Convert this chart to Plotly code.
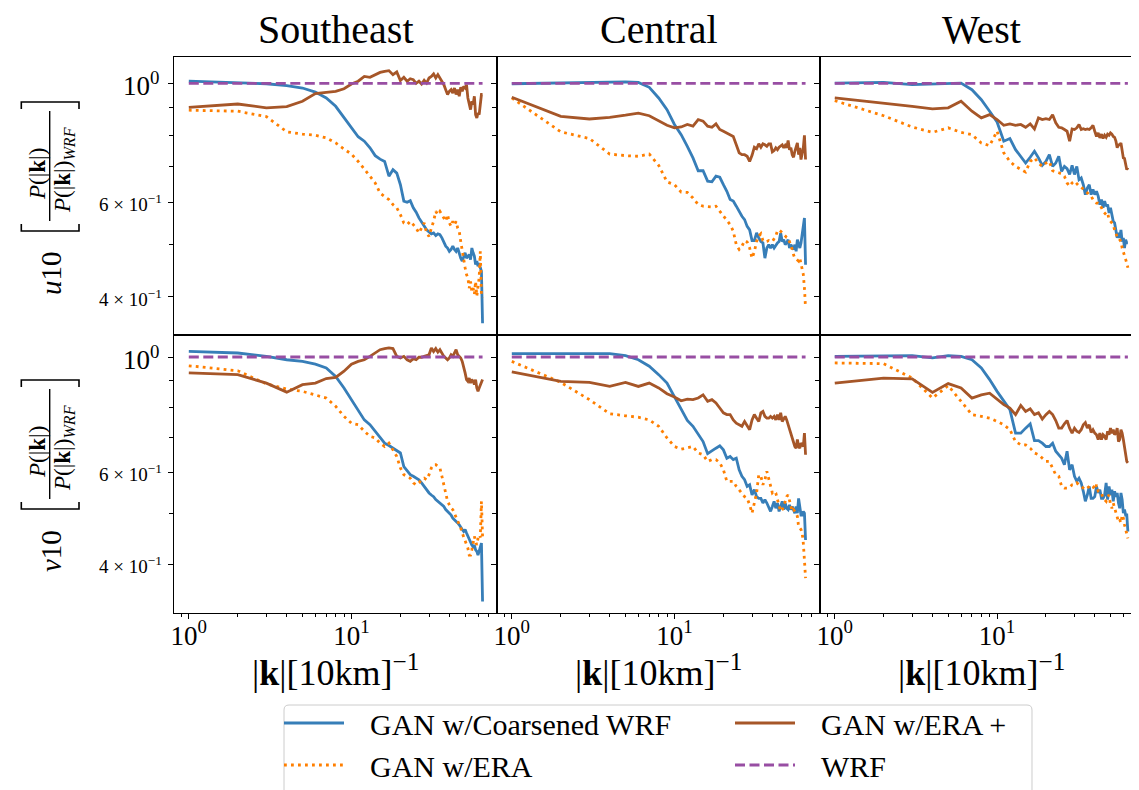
import math
import plotly.graph_objects as go

# ---------------- data ----------------
k_values = list(range(1, 65))
regions = ["Southeast", "Central", "West"]
variables = ["u10", "v10"]
series_names = ["GAN w/Coarsened WRF", "GAN w/ERA", "GAN w/ERA +", "WRF"]
x_tick_vals = [1, 10]
x_tick_text = ["10<sup>0</sup>", "10<sup>1</sup>"]
y_tick_vals = [0.4, 0.6, 1.0]
y_tick_text = ["4 × 10<sup>−1</sup>", "6 × 10<sup>−1</sup>", "10<sup>0</sup>"]
x_minor_vals = [0.9, 2, 3, 4, 5, 6, 7, 8, 9, 20, 30, 40, 50, 60, 70]
y_minor_vals = [0.5, 0.7, 0.8, 0.9]

# u10 -------------------------------------------------------------
u10_southeast_coarsened = [
    1.009, 1.004, 0.998, 0.990, 0.980, 0.963, 0.939, 0.906, 0.862, 0.826,
    0.795, 0.780, 0.758, 0.733, 0.722, 0.715, 0.671, 0.690, 0.680, 0.647,
    0.603, 0.600, 0.604, 0.586, 0.575, 0.561, 0.550, 0.540, 0.533, 0.528,
    0.524, 0.526, 0.520, 0.524, 0.522, 0.515, 0.506, 0.497, 0.493, 0.486,
    0.490, 0.497, 0.490, 0.486, 0.493, 0.479, 0.472, 0.466, 0.476, 0.483,
    0.472, 0.476, 0.479, 0.469, 0.493, 0.483, 0.476, 0.459, 0.466, 0.456,
    0.462, 0.453, 0.446, 0.357]
u10_southeast_era = [
    0.891, 0.887, 0.867, 0.812, 0.804, 0.800, 0.791, 0.774, 0.754, 0.738,
    0.715, 0.690, 0.671, 0.652, 0.624, 0.615, 0.607, 0.594, 0.586, 0.569,
    0.549, 0.545, 0.553, 0.545, 0.537, 0.526, 0.537, 0.549, 0.526, 0.518,
    0.537, 0.553, 0.577, 0.569, 0.577, 0.569, 0.561, 0.553, 0.569, 0.549,
    0.541, 0.553, 0.545, 0.553, 0.537, 0.530, 0.507, 0.486, 0.466, 0.453,
    0.440, 0.434, 0.415, 0.427, 0.409, 0.415, 0.404, 0.427, 0.401, 0.415,
    0.434, 0.486, 0.404, 0.398]
u10_southeast_eraplus = [
    0.902, 0.915, 0.900, 0.905, 0.926, 0.957, 0.962, 0.966, 0.977, 0.997,
    1.009, 1.030, 1.026, 1.038, 1.048, 1.053, 1.056, 1.038, 1.050, 1.012,
    1.026, 1.009, 1.020, 1.016, 1.000, 1.009, 0.997, 1.013, 1.001, 1.023,
    1.030, 1.041, 1.023, 1.038, 1.023, 1.009, 0.994, 0.973, 0.953, 0.966,
    0.973, 0.959, 0.980, 0.953, 0.973, 0.946, 0.983, 0.966, 0.987, 0.980,
    0.994, 0.939, 0.919, 0.893, 0.926, 0.913, 0.946, 0.874, 0.862, 0.880,
    0.874, 0.913, 0.953, 0.953]

u10_central_coarsened = [
    0.998, 1.002, 1.005, 1.006, 1.006, 1.004, 0.983, 0.939, 0.893, 0.838,
    0.802, 0.763, 0.726, 0.687, 0.687, 0.657, 0.655, 0.671, 0.668, 0.647,
    0.629, 0.607, 0.603, 0.590, 0.577, 0.565, 0.557, 0.541, 0.533, 0.509,
    0.509, 0.526, 0.515, 0.507, 0.504, 0.472, 0.493, 0.500, 0.493, 0.500,
    0.493, 0.500, 0.504, 0.507, 0.526, 0.507, 0.511, 0.500, 0.504, 0.511,
    0.493, 0.500, 0.493, 0.490, 0.500, 0.486, 0.511, 0.500, 0.493, 0.504,
    0.522, 0.537, 0.561, 0.459]
u10_central_era = [
    0.939, 0.812, 0.789, 0.738, 0.733, 0.731, 0.738, 0.703, 0.655, 0.647,
    0.627, 0.626, 0.611, 0.594, 0.590, 0.588, 0.588, 0.590, 0.577, 0.565,
    0.555, 0.545, 0.530, 0.500, 0.490, 0.497, 0.509, 0.506, 0.493, 0.472,
    0.485, 0.507, 0.519, 0.524, 0.509, 0.506, 0.507, 0.509, 0.507, 0.507,
    0.513, 0.519, 0.531, 0.533, 0.530, 0.526, 0.522, 0.520, 0.516, 0.515,
    0.507, 0.500, 0.490, 0.479, 0.472, 0.471, 0.469, 0.466, 0.472, 0.462,
    0.453, 0.440, 0.415, 0.381]
u10_central_eraplus = [
    0.942, 0.868, 0.858, 0.864, 0.872, 0.880, 0.870, 0.852, 0.835, 0.826,
    0.829, 0.838, 0.832, 0.856, 0.850, 0.832, 0.828, 0.840, 0.820, 0.814,
    0.808, 0.800, 0.796, 0.768, 0.742, 0.736, 0.736, 0.731, 0.715, 0.734,
    0.760, 0.755, 0.771, 0.760, 0.771, 0.768, 0.763, 0.771, 0.771, 0.745,
    0.749, 0.758, 0.752, 0.760, 0.763, 0.768, 0.758, 0.766, 0.758, 0.782,
    0.752, 0.758, 0.736, 0.728, 0.747, 0.758, 0.774, 0.736, 0.758, 0.721,
    0.736, 0.758, 0.800, 0.721]

u10_west_coarsened = [
    1.001, 1.004, 0.994, 0.997, 1.000, 1.001, 0.973, 0.932, 0.887, 0.847,
    0.780, 0.789, 0.752, 0.731, 0.710, 0.728, 0.747, 0.726, 0.703, 0.715,
    0.736, 0.700, 0.710, 0.731, 0.685, 0.700, 0.693, 0.676, 0.703, 0.676,
    0.700, 0.661, 0.666, 0.647, 0.620, 0.638, 0.647, 0.620, 0.634, 0.620,
    0.629, 0.616, 0.594, 0.607, 0.586, 0.603, 0.590, 0.594, 0.573, 0.586,
    0.565, 0.553, 0.549, 0.533, 0.515, 0.526, 0.515, 0.533, 0.507, 0.515,
    0.493, 0.511, 0.504, 0.504]
u10_west_era = [
    0.928, 0.870, 0.829, 0.810, 0.826, 0.810, 0.802, 0.774, 0.765, 0.814,
    0.742, 0.715, 0.700, 0.690, 0.683, 0.715, 0.726, 0.710, 0.700, 0.710,
    0.715, 0.687, 0.685, 0.681, 0.678, 0.671, 0.652, 0.643, 0.652, 0.657,
    0.650, 0.643, 0.640, 0.634, 0.629, 0.625, 0.620, 0.616, 0.607, 0.603,
    0.598, 0.598, 0.594, 0.586, 0.577, 0.573, 0.569, 0.573, 0.557, 0.553,
    0.549, 0.545, 0.533, 0.526, 0.515, 0.515, 0.511, 0.507, 0.493, 0.486,
    0.476, 0.469, 0.462, 0.453]
u10_west_eraplus = [
    0.939, 0.919, 0.906, 0.896, 0.900, 0.926, 0.887, 0.862, 0.874, 0.856,
    0.835, 0.840, 0.835, 0.838, 0.828, 0.840, 0.822, 0.862, 0.856, 0.859,
    0.856, 0.874, 0.844, 0.828, 0.826, 0.820, 0.814, 0.780, 0.822, 0.820,
    0.826, 0.838, 0.820, 0.823, 0.820, 0.822, 0.820, 0.826, 0.835, 0.814,
    0.796, 0.808, 0.791, 0.804, 0.789, 0.800, 0.793, 0.804, 0.800, 0.808,
    0.804, 0.796, 0.793, 0.780, 0.758, 0.768, 0.768, 0.774, 0.747, 0.726,
    0.724, 0.710, 0.690, 0.697]

# v10 -------------------------------------------------------------
v10_southeast_coarsened = [
    1.025, 1.018, 1.003, 0.988, 0.981, 0.969, 0.953, 0.918, 0.872, 0.828,
    0.792, 0.757, 0.741, 0.720, 0.699, 0.683, 0.676, 0.668, 0.663, 0.654,
    0.616, 0.603, 0.594, 0.590, 0.585, 0.581, 0.573, 0.564, 0.556, 0.548,
    0.543, 0.539, 0.532, 0.528, 0.524, 0.520, 0.516, 0.509, 0.505, 0.501,
    0.497, 0.490, 0.487, 0.483, 0.480, 0.476, 0.469, 0.466, 0.462, 0.466,
    0.459, 0.452, 0.448, 0.442, 0.435, 0.432, 0.435, 0.426, 0.423, 0.416,
    0.423, 0.429, 0.439, 0.339]
v10_southeast_era = [
    0.962, 0.941, 0.888, 0.868, 0.859, 0.846, 0.834, 0.804, 0.769, 0.746,
    0.741, 0.720, 0.704, 0.699, 0.683, 0.673, 0.683, 0.663, 0.644, 0.612,
    0.594, 0.590, 0.585, 0.573, 0.568, 0.573, 0.581, 0.585, 0.581, 0.594,
    0.612, 0.621, 0.621, 0.616, 0.612, 0.590, 0.568, 0.543, 0.528, 0.520,
    0.512, 0.509, 0.501, 0.494, 0.483, 0.476, 0.469, 0.459, 0.452, 0.442,
    0.435, 0.429, 0.416, 0.416, 0.426, 0.442, 0.452, 0.442, 0.435, 0.448,
    0.455, 0.450, 0.528, 0.452]
v10_southeast_eraplus = [
    0.932, 0.925, 0.891, 0.856, 0.885, 0.891, 0.909, 0.914, 0.939, 0.969,
    0.981, 0.988, 1.003, 1.018, 1.033, 1.038, 1.041, 1.038, 1.003, 0.996,
    1.003, 0.988, 0.981, 0.993, 0.988, 0.999, 0.999, 1.003, 1.007, 1.010,
    1.041, 1.025, 1.038, 1.022, 1.033, 1.018, 1.003, 0.996, 0.988, 0.996,
    1.010, 1.003, 1.018, 1.033, 1.010, 1.003, 0.996, 0.981, 0.960, 0.932,
    0.905, 0.898, 0.911, 0.891, 0.905, 0.898, 0.885, 0.905, 0.872, 0.859,
    0.872, 0.885, 0.898, 0.905]

v10_central_coarsened = [
    1.015, 1.015, 1.015, 1.015, 1.006, 0.988, 0.960, 0.925, 0.891, 0.840,
    0.798, 0.755, 0.736, 0.709, 0.688, 0.652, 0.661, 0.668, 0.675, 0.663,
    0.639, 0.644, 0.635, 0.639, 0.607, 0.590, 0.581, 0.564, 0.568, 0.543,
    0.556, 0.539, 0.535, 0.535, 0.524, 0.532, 0.524, 0.512, 0.505, 0.516,
    0.528, 0.512, 0.524, 0.505, 0.520, 0.528, 0.509, 0.524, 0.512, 0.509,
    0.520, 0.509, 0.516, 0.509, 0.501, 0.516, 0.501, 0.535, 0.509, 0.497,
    0.497, 0.505, 0.501, 0.445]
v10_central_era = [
    0.981, 0.894, 0.828, 0.778, 0.771, 0.766, 0.757, 0.736, 0.699, 0.673,
    0.665, 0.670, 0.673, 0.654, 0.649, 0.630, 0.635, 0.635, 0.626, 0.607,
    0.577, 0.577, 0.577, 0.564, 0.556, 0.548, 0.539, 0.535, 0.520, 0.501,
    0.524, 0.548, 0.594, 0.590, 0.568, 0.581, 0.603, 0.581, 0.560, 0.548,
    0.552, 0.548, 0.532, 0.516, 0.505, 0.509, 0.516, 0.528, 0.539, 0.543,
    0.528, 0.516, 0.505, 0.509, 0.505, 0.501, 0.494, 0.472, 0.469, 0.466,
    0.459, 0.439, 0.407, 0.376]
v10_central_eraplus = [
    0.936, 0.898, 0.894, 0.878, 0.894, 0.878, 0.891, 0.872, 0.850, 0.838,
    0.824, 0.830, 0.828, 0.834, 0.846, 0.822, 0.828, 0.816, 0.798, 0.781,
    0.775, 0.775, 0.757, 0.746, 0.741, 0.736, 0.752, 0.736, 0.725, 0.757,
    0.775, 0.763, 0.752, 0.781, 0.786, 0.769, 0.763, 0.763, 0.769, 0.763,
    0.769, 0.757, 0.775, 0.757, 0.781, 0.752, 0.763, 0.769, 0.757, 0.741,
    0.725, 0.714, 0.694, 0.683, 0.673, 0.668, 0.694, 0.673, 0.668, 0.683,
    0.678, 0.673, 0.714, 0.649]

v10_west_coarsened = [
    1.003, 1.003, 1.006, 0.996, 1.006, 1.003, 0.988, 0.953, 0.905, 0.859,
    0.822, 0.792, 0.714, 0.714, 0.730, 0.744, 0.691, 0.691, 0.683, 0.673,
    0.673, 0.683, 0.659, 0.649, 0.639, 0.621, 0.659, 0.607, 0.621, 0.590,
    0.577, 0.585, 0.573, 0.552, 0.528, 0.543, 0.564, 0.535, 0.535, 0.539,
    0.564, 0.548, 0.556, 0.535, 0.535, 0.543, 0.573, 0.532, 0.564, 0.543,
    0.556, 0.528, 0.552, 0.539, 0.548, 0.524, 0.512, 0.548, 0.532, 0.501,
    0.509, 0.497, 0.497, 0.462]
v10_west_era = [
    0.974, 0.971, 0.911, 0.834, 0.881, 0.822, 0.775, 0.769, 0.763, 0.752,
    0.741, 0.725, 0.688, 0.678, 0.678, 0.668, 0.654, 0.649, 0.639, 0.630,
    0.630, 0.612, 0.594, 0.590, 0.564, 0.560, 0.560, 0.562, 0.568, 0.568,
    0.573, 0.568, 0.564, 0.560, 0.556, 0.560, 0.564, 0.568, 0.564, 0.556,
    0.568, 0.552, 0.548, 0.548, 0.535, 0.532, 0.528, 0.539, 0.543, 0.520,
    0.512, 0.524, 0.512, 0.501, 0.490, 0.483, 0.487, 0.480, 0.497, 0.490,
    0.476, 0.466, 0.462, 0.448]
v10_west_eraplus = [
    0.891, 0.911, 0.908, 0.855, 0.889, 0.872, 0.834, 0.846, 0.852, 0.828,
    0.810, 0.798, 0.775, 0.807, 0.786, 0.795, 0.775, 0.781, 0.760, 0.775,
    0.786, 0.775, 0.755, 0.730, 0.730, 0.744, 0.755, 0.730, 0.714, 0.730,
    0.720, 0.716, 0.725, 0.741, 0.748, 0.730, 0.741, 0.716, 0.725, 0.714,
    0.709, 0.694, 0.714, 0.694, 0.709, 0.704, 0.694, 0.720, 0.709, 0.730,
    0.714, 0.725, 0.709, 0.714, 0.730, 0.688, 0.694, 0.725, 0.714, 0.694,
    0.673, 0.659, 0.630, 0.626]

# WRF reference (ratio of WRF to itself)
wrf_ratio = [
    1.0, 1.0, 1.0, 1.0, 1.0, 1.0, 1.0, 1.0, 1.0, 1.0, 1.0, 1.0, 1.0, 1.0, 1.0, 1.0,
    1.0, 1.0, 1.0, 1.0, 1.0, 1.0, 1.0, 1.0, 1.0, 1.0, 1.0, 1.0, 1.0, 1.0, 1.0, 1.0,
    1.0, 1.0, 1.0, 1.0, 1.0, 1.0, 1.0, 1.0, 1.0, 1.0, 1.0, 1.0, 1.0, 1.0, 1.0, 1.0,
    1.0, 1.0, 1.0, 1.0, 1.0, 1.0, 1.0, 1.0, 1.0, 1.0, 1.0, 1.0, 1.0, 1.0, 1.0, 1.0]

panels = [
    [(u10_southeast_coarsened, u10_southeast_era, u10_southeast_eraplus, wrf_ratio),
     (u10_central_coarsened, u10_central_era, u10_central_eraplus, wrf_ratio),
     (u10_west_coarsened, u10_west_era, u10_west_eraplus, wrf_ratio)],
    [(v10_southeast_coarsened, v10_southeast_era, v10_southeast_eraplus, wrf_ratio),
     (v10_central_coarsened, v10_central_era, v10_central_eraplus, wrf_ratio),
     (v10_west_coarsened, v10_west_era, v10_west_eraplus, wrf_ratio)],
]

# ---------------- style ----------------
W, H = 1139, 790
FONT = "Liberation Serif"
colors = ["#377eb8", "#ff7f00", "#a65628", "#984ea3"]
dashes = ["solid", "2.8px,4.2px", "solid", "10px,4.5px"]
legend_of_series = ["legend", "legend", "legend2", "legend2"]

col_px = [(166, 489), (489, 812), (812, 1134.3)]
row_px = [(49.3, 326.7), (326.7, 605)]
y_ranges = [[-0.4688, 0.0485], [-0.492, 0.0429]]
x_range = [-0.091, 1.895]


def px_x(x):
    return x / W


def px_y(y):
    return 1 - y / H


fig = go.Figure()
layout = dict(
    width=W, height=H,
    margin=dict(l=0, r=0, t=0, b=0, autoexpand=False),
    paper_bgcolor="white", plot_bgcolor="white",
    font=dict(family=FONT, color="black"),
    showlegend=True,
)
annotations = []
shapes = []

for r in range(2):
    for c in range(3):
        n = r * 3 + c + 1
        xa = "x" if n == 1 else f"x{n}"
        ya = "y" if n == 1 else f"y{n}"
        for s in range(4):
            fig.add_trace(go.Scatter(
                x=k_values, y=panels[r][c][s], mode="lines",
                name="\u2002\u2009" + series_names[s],
                legendgroup=series_names[s],
                legend=legend_of_series[s],
                showlegend=(n == 1),
                line=dict(color=colors[s], width=2.8, dash=dashes[s]),
                xaxis=xa, yaxis=ya,
            ))
        bottom = (r == 1)
        layout["xaxis" if n == 1 else f"xaxis{n}"] = dict(
            type="log", range=x_range,
            domain=[px_x(col_px[c][0]), px_x(col_px[c][1])],
            anchor=ya, automargin=False,
            showline=True, mirror=True, linecolor="black", linewidth=1.3,
            showgrid=False, zeroline=False,
            ticks="outside" if bottom else "", ticklen=5, tickwidth=1.1,
            tickcolor="black",
            tickvals=x_tick_vals, ticktext=x_tick_text,
            showticklabels=bottom,
            tickfont=dict(family=FONT, size=27, color="black"),
            ticklabelstandoff=-7,
            minor=dict(tickvals=x_minor_vals,
                       ticks="outside" if bottom else "", ticklen=3,
                       tickwidth=0.9, tickcolor="black"),
        )
        layout["yaxis" if n == 1 else f"yaxis{n}"] = dict(
            type="log", range=y_ranges[r],
            domain=[px_y(row_px[r][1]), px_y(row_px[r][0])],
            anchor=xa, automargin=False,
            showline=True, mirror=True, linecolor="black", linewidth=1.3,
            showgrid=False, zeroline=False,
            ticks="outside", ticklen=4.5, tickwidth=1.1, tickcolor="black",
            tickvals=y_tick_vals, showticklabels=False,
            minor=dict(tickvals=y_minor_vals, ticks="outside",
                       ticklen=3.5, tickwidth=0.9, tickcolor="black"),
        )
        # y tick labels (left column only), placed on the axis scale
        if c == 0:
            for v, t in zip(y_tick_vals, y_tick_text):
                big = (v == 1.0)
                annotations.append(dict(
                    x=px_x(153 if big else 155.5), y=math.log10(v),
                    xref="paper", yref=ya, text=t, showarrow=False,
                    xanchor="right", yanchor="middle", yshift=-1,
                    font=dict(family=FONT, size=27 if big else 19,
                              color="black")))

# column titles and x labels
for c, name in enumerate(regions):
    cx = (col_px[c][0] + col_px[c][1]) / 2
    annotations.append(dict(
        x=px_x(cx), y=px_y(21), xref="paper", yref="paper",
        text=name, showarrow=False, xanchor="center", yanchor="middle",
        font=dict(family=FONT, size=40, color="black")))
    annotations.append(dict(
        x=px_x(cx), y=px_y(662), xref="paper", yref="paper",
        text="|<b>k</b>|[10km]<sup>−1</sup>", showarrow=False,
        xanchor="center", yanchor="middle",
        font=dict(family=FONT, size=36, color="black")))

# y labels
for r, var in enumerate(variables):
    dy = 278 * r
    annotations.append(dict(
        x=px_x(43), y=px_y(265 + dy), xref="paper", yref="paper",
        text=f"<i>{var[0]}</i>{var[1:]}", showarrow=False, textangle=-90,
        xanchor="center", yanchor="middle",
        font=dict(family=FONT, size=29, color="black")))
    annotations.append(dict(
        x=px_x(29), y=px_y(166 + dy), xref="paper", yref="paper",
        text="<i>P</i>(|<b>k</b>|)", showarrow=False, textangle=-90,
        xanchor="center", yanchor="middle",
        font=dict(family=FONT, size=23, color="black")))
    annotations.append(dict(
        x=px_x(56), y=px_y(162 + dy), xref="paper", yref="paper",
        text="<i>P</i>(|<b>k</b>|)<sub><i>WRF</i></sub>", showarrow=False,
        textangle=-90, xanchor="center", yanchor="middle",
        font=dict(family=FONT, size=23, color="black")))
    shapes.append(dict(type="line", xref="paper", yref="paper",
                       x0=px_x(41.7), x1=px_x(41.7),
                       y0=px_y(103 + dy), y1=px_y(213 + dy),
                       line=dict(color="black", width=1.4)))
    for (yb, yt) in [(223, 216), (94, 101)]:
        path = "M {:.5f},{:.5f} L {:.5f},{:.5f} L {:.5f},{:.5f} L {:.5f},{:.5f}".format(
            px_x(13.3), px_y(yt + dy), px_x(13.3), px_y(yb + dy),
            px_x(71), px_y(yb + dy), px_x(71), px_y(yt + dy))
        shapes.append(dict(type="path", xref="paper", yref="paper", path=path,
                           line=dict(color="black", width=1.6)))

# legend frame with rounded corners
L, R, T, B, rad = 276, 1024, 697, 789, 5
pts = [
    ("M", L + rad, T), ("L", R - rad, T), ("Q", R, T, R, T + rad),
    ("L", R, B - rad), ("Q", R, B, R - rad, B), ("L", L + rad, B),
    ("Q", L, B, L, B - rad), ("L", L, T + rad), ("Q", L, T, L + rad, T),
]
frame = ""
for p in pts:
    cmd, coords = p[0], p[1:]
    xy = []
    for i in range(0, len(coords), 2):
        xy.append("{:.5f},{:.5f}".format(px_x(coords[i]), px_y(coords[i + 1])))
    frame += cmd + " " + " ".join(xy) + " "
frame += "Z"
shapes.append(dict(type="path", xref="paper", yref="paper", layer="below",
                   path=frame, line=dict(color="#cccccc", width=1),
                   fillcolor="white"))

layout["annotations"] = annotations
layout["shapes"] = shapes
legend_common = dict(
    orientation="v", yanchor="middle", xanchor="left",
    bgcolor="rgba(0,0,0,0)", borderwidth=0,
    font=dict(family=FONT, size=30, color="black"),
    itemwidth=60, tracegroupgap=7, traceorder="normal",
)
layout["legend"] = dict(legend_common, x=px_x(271), y=px_y(736))
layout["legend2"] = dict(legend_common, x=px_x(722), y=px_y(736))
fig.update_layout(**layout)
fig.write_html("out.html")
